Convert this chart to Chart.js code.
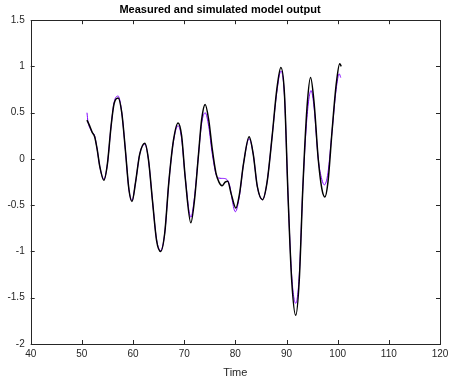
<!DOCTYPE html>
<html>
<head>
<meta charset="utf-8">
<script src="https://cdn.jsdelivr.net/npm/chart.js@4/dist/chart.umd.min.js"></script>
<style>
html,body{margin:0;padding:0;background:#fff;}
#wrap{width:449px;height:380px;}
</style>
</head>
<body>
<div id="wrap"><canvas id="c" width="449" height="380"></canvas></div>
<script>
// Measured output (black)
const measuredTime = [51.0,51.5,52.0,52.5,53.0,53.5,54.3,55.0,55.7,56.3,57.1,57.8,58.5,59.2,59.8,60.5,61.3,62.3,63.0,63.8,64.6,65.4,66.2,67.0,67.9,68.8,69.5,70.2,71.3,72.0,72.8,73.4,74.1,74.8,75.5,76.2,76.8,77.4,78.0,78.5,79.2,80.1,80.8,81.6,82.7,83.5,84.3,85.3,86.2,87.2,88.1,88.9,89.6,90.3,91.0,91.8,92.5,93.2,94.0,94.7,95.4,96.2,96.9,97.5,98.1,98.9,99.7,100.4,100.7];
const measuredValue = [0.42,0.36,0.29,0.24,0.10,-0.08,-0.23,-0.05,0.35,0.60,0.66,0.50,0.10,-0.33,-0.46,-0.25,0.05,0.17,0.00,-0.45,-0.88,-1.00,-0.80,-0.25,0.20,0.39,0.25,-0.20,-0.69,-0.45,0.05,0.42,0.59,0.42,0.10,-0.15,-0.25,-0.29,-0.25,-0.24,-0.38,-0.53,-0.38,-0.05,0.24,0.05,-0.30,-0.44,-0.25,0.25,0.75,0.99,0.70,-0.40,-1.30,-1.69,-1.30,-0.30,0.55,0.88,0.60,0.00,-0.32,-0.41,-0.25,0.30,0.80,1.03,1.00];
// Simulated model output (purple)
const simTime = [51.0,51.2,51.6,52.0,52.5,53.0,53.5,54.3,55.0,55.7,56.3,57.1,57.8,58.5,59.2,59.8,60.5,61.3,62.3,63.0,63.8,64.6,65.4,66.2,67.0,67.9,68.8,69.5,70.2,71.3,72.0,72.8,73.4,74.1,74.8,75.5,76.5,77.5,78.3,78.8,80.0,80.8,81.6,82.7,83.5,84.3,85.3,86.2,87.2,88.1,88.9,89.6,90.3,91.0,91.8,92.5,93.2,94.0,94.8,95.4,96.2,96.9,97.4,98.1,98.9,99.7,100.3,100.6];
const simValue = [0.50,0.40,0.33,0.29,0.25,0.10,-0.08,-0.22,-0.05,0.35,0.61,0.68,0.50,0.10,-0.33,-0.45,-0.25,0.05,0.16,0.00,-0.45,-0.87,-0.99,-0.80,-0.25,0.19,0.36,0.22,-0.20,-0.63,-0.42,0.05,0.38,0.50,0.35,0.05,-0.20,-0.21,-0.22,-0.27,-0.57,-0.40,-0.05,0.22,0.05,-0.30,-0.44,-0.25,0.25,0.72,0.95,0.68,-0.40,-1.25,-1.56,-1.25,-0.30,0.45,0.74,0.55,0.00,-0.22,-0.28,-0.15,0.30,0.75,0.92,0.88];

const xTicks = [40,50,60,70,80,90,100,110,120];
const yTicks = [-2,-1.5,-1,-0.5,0,0.5,1,1.5];
const titleText = 'Measured and simulated model output';
const xLabel = 'Time';

const toXY = (xs, ys) => xs.map((x, i) => ({x: x, y: ys[i]}));
const FONT = "'Liberation Sans', Arial, Helvetica, sans-serif";
const AX = '#262626';

const boxTicks = {
  id: 'boxTicks',
  afterDatasetsDraw(chart) {
    const {ctx, chartArea: a, scales: {x, y}} = chart;
    ctx.save();
    ctx.strokeStyle = AX;
    ctx.lineWidth = 1;
    ctx.beginPath();
    const L = 4;
    xTicks.forEach(v => {
      const px = Math.round(x.getPixelForValue(v)) + 0.5;
      ctx.moveTo(px, a.bottom); ctx.lineTo(px, a.bottom - L);
      ctx.moveTo(px, a.top); ctx.lineTo(px, a.top + L);
    });
    yTicks.forEach(v => {
      const py = Math.round(y.getPixelForValue(v)) + 0.5;
      ctx.moveTo(a.left, py); ctx.lineTo(a.left + L, py);
      ctx.moveTo(a.right, py); ctx.lineTo(a.right - L, py);
    });
    ctx.stroke();
    ctx.strokeRect(Math.round(a.left) + 0.5, Math.round(a.top) + 0.5, Math.round(a.right - a.left), Math.round(a.bottom - a.top));
    ctx.restore();
  }
};

new Chart(document.getElementById('c'), {
  type: 'line',
  data: {
    datasets: [
      {label: 'Measured', data: toXY(measuredTime, measuredValue), borderColor: '#000000', borderWidth: 1.5, pointRadius: 0, cubicInterpolationMode: 'monotone', fill: false, order: 0},
      {label: 'Simulated', data: toXY(simTime, simValue), borderColor: '#8000ff', borderWidth: 1, pointRadius: 0, cubicInterpolationMode: 'monotone', fill: false, order: 1}
    ]
  },
  options: {
    responsive: false,
    animation: false,
    devicePixelRatio: 1,
    layout: {padding: {left: 0, right: 9, top: 0, bottom: 0}},
    plugins: {
      legend: {display: false},
      tooltip: {enabled: false},
      title: {display: true, text: titleText, color: '#000', font: {family: FONT, size: 11, weight: 'bold'}, padding: {top: 3, bottom: 4}}
    },
    scales: {
      x: {
        type: 'linear', min: 40, max: 120,
        afterBuildTicks: s => { s.ticks = xTicks.map(v => ({value: v})); },
        afterFit: s => { s.height = 36; s.paddingRight = 0; s.paddingLeft = 0; },
        grid: {display: false, drawTicks: false},
        border: {display: false},
        ticks: {color: AX, font: {family: FONT, size: 10}, padding: 4, maxRotation: 0, callback: v => String(v)},
        title: {display: true, text: xLabel, color: AX, font: {family: FONT, size: 11}, padding: {top: 1, bottom: 0}}
      },
      y: {
        type: 'linear', min: -2, max: 1.5,
        afterBuildTicks: s => { s.ticks = yTicks.map(v => ({value: v})); },
        afterFit: s => { s.width = 30.7; s.paddingTop = 0; s.paddingBottom = 0; },
        grid: {display: false, drawTicks: false},
        border: {display: false},
        ticks: {color: AX, font: {family: FONT, size: 10}, padding: 6, callback: v => String(v)}
      }
    }
  },
  plugins: [boxTicks]
});
</script>
</body>
</html>
